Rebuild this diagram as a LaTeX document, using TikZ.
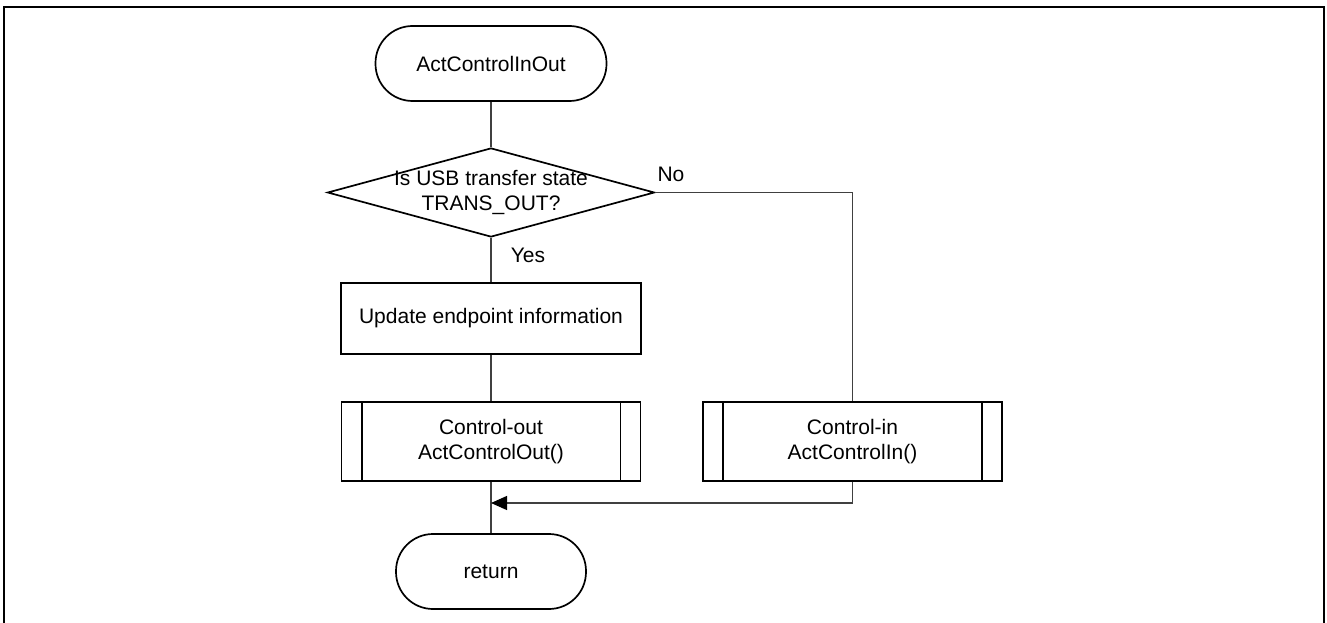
\documentclass[tikz,border=0pt]{standalone}
\usepackage{fontspec}
\setmainfont{Liberation Sans}
\usetikzlibrary{arrows.meta,shapes.geometric}
\begin{document}
\begin{tikzpicture}[x=1pt,y=-1pt,
  every node/.style={font=\fontsize{21}{25}\selectfont},
  shapeline/.style={draw=black,line width=1.7pt},
  term/.style={shapeline,rectangle,rounded corners=37pt,minimum height=75pt,inner sep=0pt},
  procbox/.style={shapeline,rectangle,minimum width=300pt,inner sep=0pt,align=center},
  decbox/.style={shapeline,diamond,aspect=3.67,minimum width=327pt,minimum height=89pt,inner sep=0pt,align=center},
  conn/.style={draw=black!75,line width=1.2pt},
  arr/.style={conn,-{Triangle[length=16pt,width=14pt,fill=black,color=black]}},
  lbl/.style={inner sep=0pt}
]
\useasboundingbox (0,0) rectangle (1327,623);
\draw[line width=2.6pt] (4,7) rectangle (1324,640);

\node[term,minimum width=231pt] (start) at (491,63.5) {ActControlInOut};
\node[decbox] (dec) at (491,192.5) {\makebox[0pt]{Is USB transfer state}\\\makebox[0pt]{TRANS\_OUT?}};
\node[procbox,minimum height=71pt] (upd) at (491,318.5) {Update endpoint information};
\node[procbox,minimum width=299pt,minimum height=79pt] (cout) at (491,441.5) {Control-out\\ActControlOut()};
\node[procbox,minimum width=299pt,minimum height=79pt] (cin) at (852.5,441.5) {Control-in\\ActControlIn()};
\node[term,minimum width=190pt] (ret) at (491,571.5) {return};

\foreach \n in {cout,cin}{
  \draw[shapeline] ([xshift=21pt]\n.north west) -- ([xshift=21pt]\n.south west);
  \draw[shapeline] ([xshift=-21pt]\n.north east) -- ([xshift=-21pt]\n.south east);
}

\coordinate (join) at (491,503);

\draw[conn] (start.south) -- (dec.north);
\draw[conn] (dec.south) -- (upd.north);
\draw[conn] (upd.south) -- (cout.north);
\draw[conn] (cout.south) -- (ret.north);
\draw[conn] (dec.east) -| (cin.north);
\draw[arr] (cin.south) |- (join);

\node[lbl] (no) at (671,174) {No};
\node[lbl] (yes) at (528,255) {Yes};
\end{tikzpicture}
\end{document}
